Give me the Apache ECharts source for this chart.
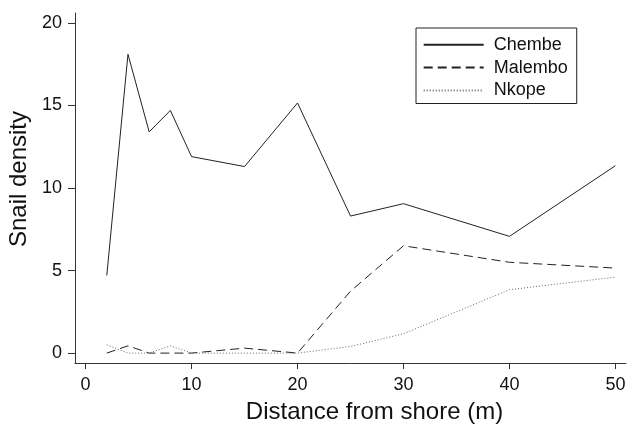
<!DOCTYPE html>
<html>
<head>
<meta charset="utf-8">
<script src="https://cdn.jsdelivr.net/npm/echarts@6/dist/echarts.min.js"></script>
<style>
html,body{margin:0;padding:0;background:#fff;}
#chart{width:631px;height:427px;}
</style>
</head>
<body>
<div id="chart"></div>
<script>
const distances = [2, 4, 6, 8, 10, 15, 20, 25, 30, 40, 50];
const chembe  = [4.7, 18.1, 13.4, 14.7, 11.9, 11.3, 15.15, 8.3, 9.05, 7.07, 11.35];
const malembo = [0, 0.44, 0, 0, 0, 0.3, 0, 3.75, 6.5, 5.5, 5.15];
const nkope   = [0.5, 0, 0, 0.44, 0, 0, 0, 0.4, 1.17, 3.84, 4.6];
const xTicks = [0, 10, 20, 30, 40, 50];
const yTicks = [0, 5, 10, 15, 20];
const seriesNames = ['Chembe', 'Malembo', 'Nkope'];

const font = 'Liberation Sans, Arial, Helvetica, sans-serif';
const pairs = arr => distances.map((d, i) => [d, arr[i]]);

const chart = echarts.init(document.getElementById('chart'), null, {renderer: 'canvas'});
chart.setOption({
  animation: false,
  backgroundColor: '#fff',
  textStyle: {fontFamily: font},
  grid: {left: 75, right: 5, top: 13, bottom: 64, containLabel: false, outerBoundsMode: 'none'},
  legend: {
    orient: 'vertical',
    left: 416,
    top: 28,
    data: seriesNames,
    itemWidth: 60,
    itemHeight: 12,
    itemGap: 4.9,
    padding: [7.7, 9, 4, 6.7],
    borderColor: '#222',
    borderWidth: 1,
    itemStyle: {opacity: 0},
    textStyle: {fontSize: 18, color: '#111', fontFamily: font, padding: [0, 0, 0, 5]}
  },
  xAxis: {
    type: 'value',
    min: -1,
    max: 51,
    name: 'Distance from shore (m)',
    nameLocation: 'middle',
    nameGap: 37,
    nameTextStyle: {fontSize: 24, color: '#111', fontFamily: font, padding: [0, 0, 0, 48]},
    axisLine: {show: true, onZero: false, lineStyle: {color: '#333', width: 1}},
    axisTick: {show: true, length: 6, customValues: xTicks, lineStyle: {color: '#333'}},
    axisLabel: {customValues: xTicks, fontSize: 18, color: '#111', margin: 13, fontFamily: font},
    splitLine: {show: false}
  },
  yAxis: {
    type: 'value',
    min: -0.6,
    max: 20.6,
    name: 'Snail density',
    nameLocation: 'middle',
    nameGap: 44,
    nameTextStyle: {fontSize: 24, color: '#111', fontFamily: font, padding: [0, 0, 0, 18]},
    axisLine: {show: true, onZero: false, lineStyle: {color: '#333', width: 1}},
    axisTick: {show: true, length: 7, customValues: yTicks, lineStyle: {color: '#333'}},
    axisLabel: {customValues: yTicks, fontSize: 18, color: '#111', margin: 13, fontFamily: font},
    splitLine: {show: false}
  },
  series: [
    {name: seriesNames[0], type: 'line', data: pairs(chembe), symbol: 'none',
     lineStyle: {color: '#222', width: 1, type: 'solid'}, itemStyle: {color: '#222'}},
    {name: seriesNames[1], type: 'line', data: pairs(malembo), symbol: 'none',
     lineStyle: {color: '#222', width: 1, type: [9, 5]}, itemStyle: {color: '#222'}},
    {name: seriesNames[2], type: 'line', data: pairs(nkope), symbol: 'none',
     lineStyle: {color: '#666', width: 1, type: [1, 2]}, itemStyle: {color: '#666'}}
  ]
});
</script>
</body>
</html>
